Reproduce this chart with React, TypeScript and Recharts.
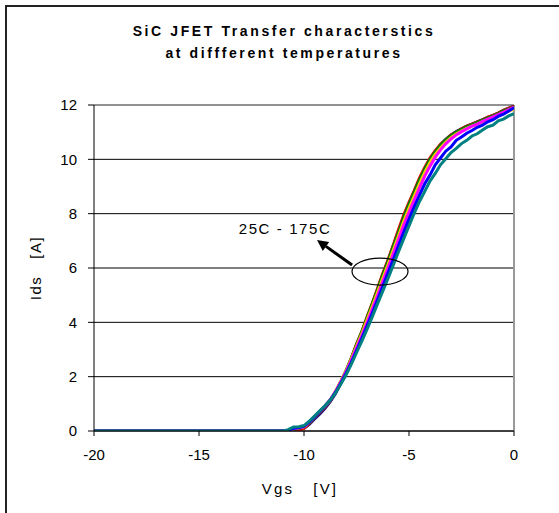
import { CartesianGrid, Line, LineChart, ReferenceDot, ReferenceLine, XAxis, YAxis } from 'recharts';

const FONT = '"Liberation Sans", Arial, sans-serif';

// gate voltage sweep [V]
const VGS = [
  -20, -19, -18, -17, -16, -15, -14, -13, -12, -11,
  -10.75, -10.5, -10.25, -10, -9.75, -9.5, -9.25, -9, -8.75, -8.5, -8.25, -8,
  -7.75, -7.5, -7.25, -7, -6.75, -6.5, -6.25, -6, -5.75, -5.5, -5.25, -5,
  -4.75, -4.5, -4.25, -4, -3.75, -3.5, -3.25, -3, -2.75, -2.5, -2.25, -2,
  -1.75, -1.5, -1.25, -1, -0.75, -0.5, -0.25, 0,
];

// drain current [A] per temperature
const IDS_NAVY = [
  0, 0, 0, 0, 0, 0, 0, 0, 0, 0,
  0, 0.02, 0.06, 0.1, 0.24, 0.44, 0.63, 0.84, 1.08, 1.38, 1.76, 2.16,
  2.64, 3.14, 3.62, 4.14, 4.66, 5.2, 5.74, 6.26, 6.8, 7.34, 7.9, 8.36,
  8.82, 9.26, 9.66, 10.02, 10.3, 10.54, 10.74, 10.9, 11.02, 11.12, 11.22, 11.3,
  11.38, 11.46, 11.54, 11.62, 11.7, 11.8, 11.88, 11.96,
];
const IDS_RED = [
  0, 0, 0, 0, 0, 0, 0, 0, 0, 0,
  0, 0.02, 0.05, 0.1, 0.28, 0.5, 0.68, 0.88, 1.12, 1.42, 1.8, 2.2,
  2.68, 3.2, 3.65, 4.2, 4.7, 5.25, 5.8, 6.3, 6.85, 7.42, 7.95, 8.42,
  8.85, 9.32, 9.7, 10.05, 10.32, 10.55, 10.72, 10.9, 11.0, 11.12, 11.22, 11.3,
  11.38, 11.45, 11.55, 11.62, 11.7, 11.8, 11.88, 11.95,
];
const IDS_GREEN = [
  0, 0, 0, 0, 0, 0, 0, 0, 0, 0,
  0, 0.05, 0.1, 0.14, 0.3, 0.5, 0.7, 0.9, 1.13, 1.45, 1.82, 2.22,
  2.68, 3.18, 3.65, 4.17, 4.68, 5.2, 5.75, 6.25, 6.8, 7.32, 7.88, 8.35,
  8.8, 9.25, 9.65, 10.0, 10.28, 10.52, 10.72, 10.88, 11.0, 11.1, 11.2, 11.28,
  11.36, 11.44, 11.53, 11.6, 11.68, 11.78, 11.86, 11.93,
];
const IDS_YELLOW = [
  0, 0, 0, 0, 0, 0, 0, 0, 0, 0,
  0.02, 0.08, 0.12, 0.15, 0.32, 0.52, 0.72, 0.92, 1.15, 1.45, 1.82, 2.2,
  2.65, 3.12, 3.58, 4.08, 4.58, 5.1, 5.62, 6.12, 6.65, 7.18, 7.72, 8.2,
  8.65, 9.1, 9.52, 9.88, 10.18, 10.42, 10.63, 10.8, 10.93, 11.04, 11.14, 11.22,
  11.3, 11.38, 11.46, 11.54, 11.62, 11.7, 11.78, 11.85,
];
const IDS_MAGENTA = [
  0, 0, 0, 0, 0, 0, 0, 0, 0, 0,
  0.02, 0.08, 0.12, 0.16, 0.33, 0.52, 0.72, 0.92, 1.15, 1.45, 1.8, 2.18,
  2.6, 3.06, 3.5, 3.98, 4.48, 4.98, 5.5, 6.0, 6.52, 7.05, 7.58, 8.05,
  8.5, 8.95, 9.38, 9.75, 10.08, 10.35, 10.57, 10.75, 10.9, 11.02, 11.12, 11.22,
  11.3, 11.4, 11.48, 11.56, 11.65, 11.74, 11.83, 11.92,
];
const IDS_BLUE = [
  0, 0, 0, 0, 0, 0, 0, 0, 0, 0,
  0.03, 0.1, 0.13, 0.17, 0.33, 0.52, 0.72, 0.92, 1.14, 1.42, 1.76, 2.12,
  2.52, 2.96, 3.4, 3.86, 4.33, 4.82, 5.32, 5.82, 6.3, 6.82, 7.32, 7.8,
  8.25, 8.68, 9.1, 9.42, 9.8, 10.05, 10.3, 10.46, 10.7, 10.82, 10.96, 11.06,
  11.18, 11.26, 11.38, 11.46, 11.58, 11.66, 11.78, 11.9,
];
const IDS_TEAL = [
  0, 0, 0, 0, 0, 0, 0, 0, 0, 0,
  0.05, 0.15, 0.16, 0.2, 0.36, 0.55, 0.74, 0.93, 1.14, 1.4, 1.72, 2.06,
  2.45, 2.88, 3.3, 3.74, 4.2, 4.68, 5.15, 5.62, 6.1, 6.6, 7.08, 7.55,
  8.02, 8.45, 8.82, 9.2, 9.48, 9.8, 10.02, 10.25, 10.4, 10.58, 10.7, 10.86,
  10.94, 11.08, 11.2, 11.26, 11.42, 11.48, 11.6, 11.68,
];

const X_TICKS = [-20, -15, -10, -5, 0];
const Y_TICKS = [0, 2, 4, 6, 8, 10, 12];

// annotation anchors, in data units
const NOTE_TEXT = '25C - 175C';
const NOTE_AT = { x: -10.9, y: 7.47 };
const ARROW_FROM = { x: -7.71, y: 6.11 };
const ARROW_TO = { x: -9.38, y: 7.03 };
const RING_AT = { x: -6.38, y: 5.87 };

const SERIES = [
  { key: 'navy', values: IDS_NAVY, color: '#000080' },
  { key: 'red', values: IDS_RED, color: '#ff0000' },
  { key: 'green', values: IDS_GREEN, color: '#008000' },
  { key: 'yellow', values: IDS_YELLOW, color: '#ffcc00' },
  { key: 'magenta', values: IDS_MAGENTA, color: '#ff00ff' },
  { key: 'blue', values: IDS_BLUE, color: '#0000ff' },
  { key: 'teal', values: IDS_TEAL, color: '#008080' },
];

const rows = VGS.map((vgs, i) => {
  const row: Record<string, number> = { vgs };
  SERIES.forEach((s) => {
    row[s.key] = s.values[i];
  });
  return row;
});

const Arrow = (props: any) => {
  const { x1, y1, x2, y2 } = props;
  const dx = x2 - x1;
  const dy = y2 - y1;
  const len = Math.hypot(dx, dy) || 1;
  const ux = dx / len;
  const uy = dy / len;
  const head = 11;
  const half = 5.5;
  const bx = x2 - ux * head;
  const by = y2 - uy * head;
  return (
    <g>
      <line x1={x1} y1={y1} x2={bx} y2={by} stroke="#000" strokeWidth={3} />
      <polygon
        points={`${x2},${y2} ${bx - uy * half},${by + ux * half} ${bx + uy * half},${by - ux * half}`}
        fill="#000"
      />
    </g>
  );
};

const YTitle = (props: any) => {
  const vb = props.viewBox || { x: 0, y: 0, width: 0, height: 0 };
  const cx = vb.x + 35;
  const cy = vb.y + vb.height / 2;
  return (
    <text
      x={cx}
      y={cy}
      transform={`rotate(-90 ${cx} ${cy})`}
      textAnchor="middle"
      dominantBaseline="central"
      fontFamily={FONT}
      fontSize={15}
      letterSpacing={1.5}
      fill="#000"
    >
      {'Ids\u00a0\u00a0\u00a0[A]'}
    </text>
  );
};

const XTitle = (props: any) => {
  const vb = props.viewBox || { x: 0, y: 0, width: 0, height: 0 };
  const cx = vb.x + vb.width / 2 - 4;
  const cy = vb.y + 57;
  return (
    <text
      x={cx}
      y={cy}
      textAnchor="middle"
      dominantBaseline="central"
      fontFamily={FONT}
      fontSize={15}
      letterSpacing={2.2}
      fill="#000"
    >
      {'Vgs\u00a0\u00a0\u00a0[V]'}
    </text>
  );
};

export default function App() {
  return (
    <div style={{ position: 'absolute', left: 0, top: 0, width: 559, height: 513, overflow: 'hidden', background: '#fff' }}>
      <svg width={559} height={513} style={{ position: 'absolute', left: 0, top: 0 }}>
        <path d="M6 513 V6 H559" fill="none" stroke="#222" strokeWidth={2} />
      </svg>
      <div
        style={{
          position: 'absolute',
          left: 0,
          top: 20,
          width: 568,
          textAlign: 'center',
          fontFamily: FONT,
          fontWeight: 'bold',
          fontSize: 14,
          lineHeight: '22px',
          letterSpacing: 2.6,
          color: '#000',
        }}
      >
        <div>SiC JFET Transfer characterstics</div>
        <div>at diffferent temperatures</div>
      </div>
      <div style={{ position: 'absolute', left: 0, top: 0 }}>
        <LineChart width={559} height={513} data={rows} margin={{ top: 105, right: 45, left: 0, bottom: 0 }}>
          <CartesianGrid horizontal vertical={false} stroke="#000" strokeWidth={1} />
          <XAxis
            dataKey="vgs"
            type="number"
            domain={[-20, 0]}
            ticks={X_TICKS}
            allowDataOverflow
            height={82}
            tickSize={5}
            tickMargin={13}
            axisLine={{ stroke: '#000', strokeWidth: 1 }}
            tickLine={{ stroke: '#000' }}
            tick={{ fill: '#000', fontSize: 15, fontFamily: FONT }}
            label={<XTitle />}
          />
          <YAxis
            type="number"
            domain={[0, 12]}
            ticks={Y_TICKS}
            allowDataOverflow
            width={94}
            tickSize={6}
            tickMargin={11}
            axisLine={{ stroke: '#000', strokeWidth: 1 }}
            tickLine={{ stroke: '#000' }}
            tick={{ fill: '#000', fontSize: 15, fontFamily: FONT }}
            label={<YTitle />}
          />
          <ReferenceLine y={12} stroke="#999" strokeWidth={1.5} />
          <ReferenceLine x={0} stroke="#999" strokeWidth={2} />
          {SERIES.map((s) => (
            <Line
              key={s.key}
              type="linear"
              dataKey={s.key}
              stroke={s.color}
              strokeWidth={3}
              dot={false}
              activeDot={false}
              isAnimationActive={false}
            />
          ))}
          <ReferenceDot
            x={RING_AT.x}
            y={RING_AT.y}
            shape={(p: any) => (
              <ellipse cx={p.cx} cy={p.cy} rx={28} ry={13.5} fill="none" stroke="#000" strokeWidth={1.2} />
            )}
          />
          <ReferenceLine
            segment={[ARROW_FROM, ARROW_TO]}
            stroke="#000"
            shape={(p: any) => <Arrow {...p} />}
          />
          <ReferenceDot
            x={NOTE_AT.x}
            y={NOTE_AT.y}
            shape={(p: any) => (
              <text
                x={p.cx}
                y={p.cy}
                textAnchor="middle"
                dominantBaseline="central"
                fontFamily={FONT}
                fontSize={15}
                letterSpacing={1.6}
                fill="#000"
              >
                {NOTE_TEXT}
              </text>
            )}
          />
        </LineChart>
      </div>
    </div>
  );
}
